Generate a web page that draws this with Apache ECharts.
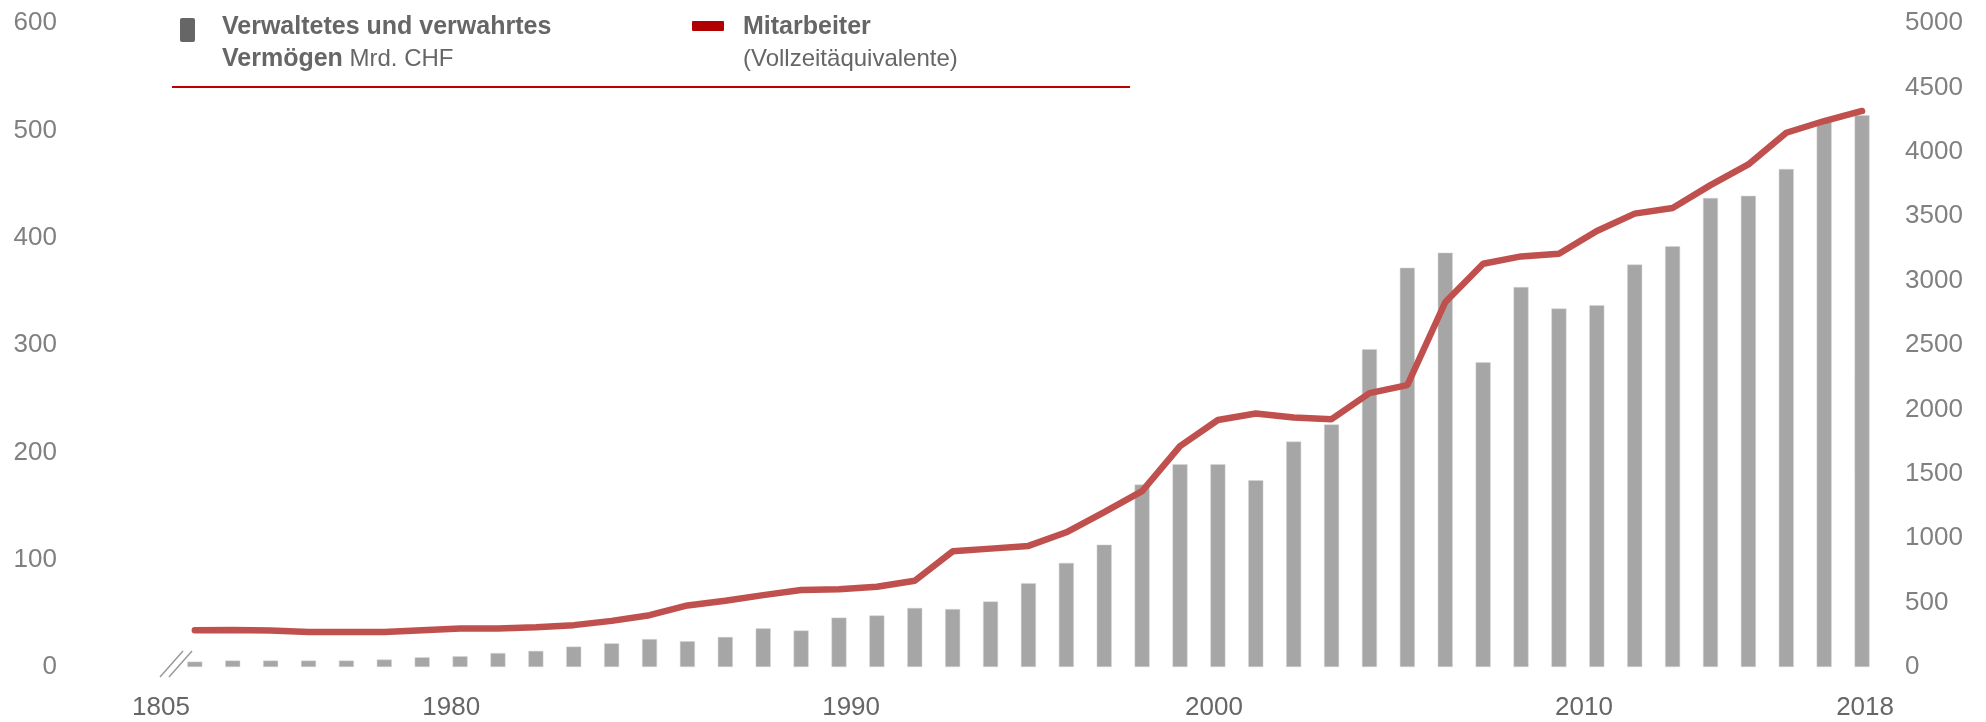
<!DOCTYPE html>
<html>
<head>
<meta charset="utf-8">
<script src="https://cdn.jsdelivr.net/npm/echarts@6/dist/echarts.min.js"></script>
<style>
  html, body { margin: 0; padding: 0; background: #fff; }
  #chart { width: 1986px; height: 722px; }
</style>
</head>
<body>
<div id="chart"></div>
<script>
  // Kategorien: Gründungsjahr + Jahre 1974-2018
  var years = ['1805',
    '1974', '1975', '1976', '1977', '1978', '1979', '1980', '1981', '1982', '1983',
    '1984', '1985', '1986', '1987', '1988', '1989', '1990', '1991', '1992', '1993',
    '1994', '1995', '1996', '1997', '1998', '1999', '2000', '2001', '2002', '2003',
    '2004', '2005', '2006', '2007', '2008', '2009', '2010', '2011', '2012', '2013',
    '2014', '2015', '2016', '2017', '2018'];

  // Verwaltetes und verwahrtes Vermögen, Mrd. CHF
  var vermoegen = [null,
    5, 6, 6, 6, 6, 7, 9, 10, 13, 15,
    19, 22, 26, 24, 28, 36, 34, 46, 48, 55,
    54, 61, 78, 97, 114, 170, 189, 189, 174, 210,
    226, 296, 372, 386, 284, 354, 334, 337, 375, 392,
    437, 439, 464, 508, 514];

  // Mitarbeiter (Vollzeitäquivalente)
  var mitarbeiter = [null,
    285, 288, 283, 272, 272, 272, 286, 298, 299, 309,
    325, 358, 402, 478, 515, 558, 598, 603, 623, 670,
    898, 919, 940, 1046, 1202, 1365, 1715, 1918, 1968, 1937,
    1924, 2126, 2188, 2832, 3131, 3188, 3209, 3385, 3520, 3564,
    3741, 3902, 4148, 4239, 4317];

  var shownYears = ['1805', '1980', '1990', '2000', '2010', '2018'];

  var font = 'Arial, "Liberation Sans", Helvetica, sans-serif';
  var grey = '#a6a6a6';
  var red = '#c0504d';

  var myChart = echarts.init(document.getElementById('chart'));

  // leichte Verschiebung der Jahresbeschriftungen wie im Original
  var labelShift = { '1980': 58, '1990': 100, '2000': 68, '2010': 50, '2018': 6, '1805': 8 };
  var rich = {};
  shownYears.forEach(function (y) {
    rich['y' + y] = { padding: [0, 0, 0, labelShift[y] || 0], fontSize: 26, color: '#666', fontFamily: font };
  });

  myChart.setOption({
    animation: false,
    textStyle: { fontFamily: font },
    grid: { left: 138, right: 105, top: 23, bottom: 55 },
    xAxis: {
      type: 'category',
      data: years,
      axisLine: { show: false },
      axisTick: { show: false },
      axisLabel: {
        interval: function (i, v) { return shownYears.indexOf(v) >= 0; },
        formatter: function (v) { return '{y' + v + '|' + v + '}'; },
        rich: rich,
        margin: 28
      }
    },
    yAxis: [{
      type: 'value',
      min: 0, max: 600, interval: 100,
      splitLine: { show: false },
      axisLabel: { color: '#808080', fontSize: 26, margin: 81 }
    }, {
      type: 'value',
      min: 0, max: 5000, interval: 500,
      splitLine: { show: false },
      axisLabel: {
        color: '#808080', fontSize: 26, margin: 24,
        formatter: function (v) { return String(v); }
      }
    }],
    series: [{
      name: 'Verwaltetes und verwahrtes Vermögen',
      type: 'bar',
      yAxisIndex: 0,
      barWidth: 15,
      itemStyle: { color: grey, borderColor: '#d4d4d4', borderWidth: 0.5 },
      data: vermoegen
    }, {
      name: 'Mitarbeiter',
      type: 'line',
      yAxisIndex: 1,
      symbol: 'none',
      lineStyle: { color: red, width: 6.5, cap: 'round' },
      data: mitarbeiter
    }],
    graphic: [
      // Legende
      { type: 'rect', shape: { x: 180, y: 18, width: 15, height: 24, r: 2 }, style: { fill: '#666' } },
      {
        type: 'text', x: 222, y: 11,
        style: {
          text: '{b|Verwaltetes und verwahrtes}\n{b|Vermögen}{n| Mrd. CHF}',
          rich: {
            b: { fontWeight: 'bold', fontSize: 25, fill: '#666', lineHeight: 32, fontFamily: font },
            n: { fontSize: 24, fill: '#666', lineHeight: 32, fontFamily: font }
          }
        }
      },
      { type: 'rect', shape: { x: 692, y: 21, width: 32, height: 10, r: 1 }, style: { fill: '#b00000' } },
      {
        type: 'text', x: 743, y: 11,
        style: {
          text: '{b|Mitarbeiter}\n{n|(Vollzeitäquivalente)}',
          rich: {
            b: { fontWeight: 'bold', fontSize: 25, fill: '#666', lineHeight: 32, fontFamily: font },
            n: { fontSize: 24, fill: '#666', lineHeight: 32, fontFamily: font }
          }
        }
      },
      { type: 'line', shape: { x1: 172, y1: 87, x2: 1130, y2: 87 }, style: { stroke: '#c00000', lineWidth: 2 } },
      // Achsenbruch
      { type: 'line', shape: { x1: 160, y1: 677, x2: 183, y2: 651 }, style: { stroke: '#999', lineWidth: 1.5 } },
      { type: 'line', shape: { x1: 169, y1: 677, x2: 192, y2: 651 }, style: { stroke: '#999', lineWidth: 1.5 } }
    ]
  });
</script>
</body>
</html>
